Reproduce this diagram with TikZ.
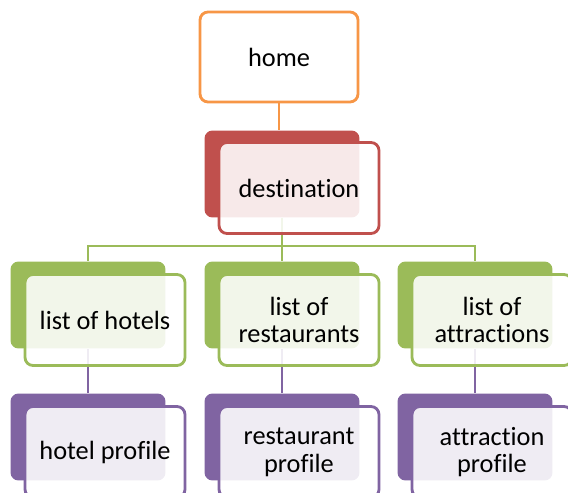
\documentclass[tikz,border=0pt]{standalone}
\usepackage{fontspec}
\setmainfont{Carlito}[Ligatures=NoCommon]
\usetikzlibrary{backgrounds}
\definecolor{hOrange}{HTML}{F79646}
\definecolor{hRed}{HTML}{C0504D}
\definecolor{hGreen}{HTML}{9BBB59}
\definecolor{hPurple}{HTML}{8064A2}
\begin{document}
\begin{tikzpicture}[x=0.02cm, y=-0.02cm,
    boxfont/.style={font=\fontsize{15}{15.8}\selectfont},
    back/.style={fill=#1, rounded corners=0.16cm, minimum width=3.1cm, minimum height=1.74cm, inner sep=0pt},
    front/.style={draw=#1, fill=white, fill opacity=0.88, text opacity=1, line width=1.6pt, rounded corners=0.16cm, minimum width=3.2cm, minimum height=1.82cm, inner sep=0pt, align=center, boxfont},
    link/.style={draw=#1, line width=1.4pt}]
    \clip (0,0) rectangle (568,493);

    % Top: the home page
    \node[draw=hOrange, fill=white, line width=1.6pt, rounded corners=0.16cm, minimum width=3.16cm, minimum height=1.8cm, boxfont] (home) at (279,57) {home};

    % Second level: destination
    \node[back=hRed]   (destB) at (282,174) {};
    \node[front=hRed]  (destF) at (299,188) {destination};

    % Third level: the three lists
    \node[back=hGreen]  (hotelsB) at (88,305)  {};
    \node[front=hGreen] (hotelsF) at (105,320) {list of hotels};
    \node[back=hGreen]  (restB)   at (282,305) {};
    \node[front=hGreen] (restF)   at (299,320) {list of\\restaurants};
    \node[back=hGreen]  (attrB)   at (475,305) {};
    \node[front=hGreen] (attrF)   at (492,320) {list of\\attractions};

    % Bottom level: the profiles
    \node[back=hPurple]  (hotelPB) at (88,437)  {};
    \node[front=hPurple] (hotelPF) at (105,452) {hotel profile};
    \node[back=hPurple]  (restPB)  at (282,437) {};
    \node[front=hPurple] (restPF)  at (299,452) {restaurant\\profile};
    \node[back=hPurple]  (attrPB)  at (475,437) {};
    \node[front=hPurple] (attrPF)  at (492,452) {attraction\\profile};

    % Connectors, behind the boxes
    \begin{scope}[on background layer]
      \draw[link=hOrange] (home.south) -- (home.south |- destB.north);
      \coordinate (split) at (282,246);
      \draw[link=hGreen] (destB.south) -- (split);
      \draw[link=hGreen] (split) -| (hotelsB.north);
      \draw[link=hGreen] (split) -- (restB.north);
      \draw[link=hGreen] (split) -| (attrB.north);
      \draw[link=hPurple] (hotelsB.south) -- (hotelPB.north);
      \draw[link=hPurple] (restB.south) -- (restPB.north);
      \draw[link=hPurple] (attrB.south) -- (attrPB.north);
    \end{scope}
\end{tikzpicture}
\end{document}
